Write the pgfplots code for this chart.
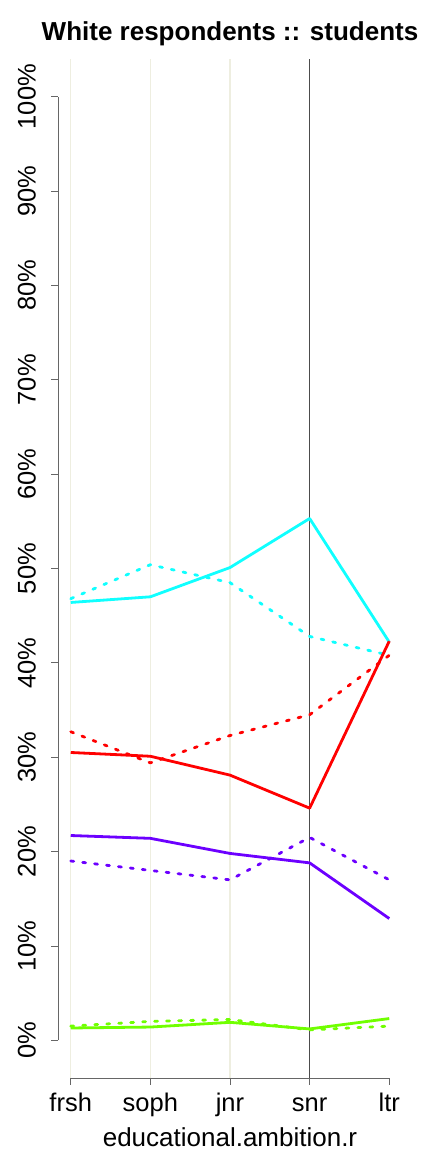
\documentclass[border=0pt]{standalone}
\usepackage{pgfplots}
\pgfplotsset{compat=1.18}
\usepackage{fontspec}
\setmainfont{Liberation Sans}
\definecolor{cRed}{HTML}{FF0000}
\definecolor{cGreen}{HTML}{70FF00}
\definecolor{cCyan}{HTML}{10FFFF}
\definecolor{cPurple}{HTML}{6C00FF}
\definecolor{gridbeige}{HTML}{EEEEE0}
\definecolor{spine}{HTML}{666666}
\begin{document}
\begin{tikzpicture}
\useasboundingbox (0,0) rectangle (432bp,1152bp);
\begin{axis}[
  at={(58bp,74bp)}, anchor=south west,
  scale only axis, width=344bp, height=1019bp,
  xmin=0.84, xmax=5.16, ymin=-4, ymax=104,
  axis line style={draw=none},
  xtick={1,2,3,4,5},
  xticklabels={frsh,soph,jnr,snr,ltr},
  ytick={0,10,20,30,40,50,60,70,80,90,100},
  yticklabels={0\%,10\%,20\%,30\%,40\%,50\%,60\%,70\%,80\%,90\%,100\%},
  tick align=outside, major tick length=7bp,
  xtick pos=bottom, ytick pos=left,
  tick style={spine, line width=0.8bp},
  xticklabel style={anchor=base, inner sep=0pt, yshift=-27bp, font=\fontsize{25.5bp}{30bp}\selectfont},
  yticklabel style={inner sep=0pt, anchor=south, rotate=90, font=\fontsize{25.5bp}{30bp}\selectfont},
  yticklabel shift=15bp,
  clip=false,
]
\draw[gridbeige, line width=1.2bp] (axis cs:1,-4) -- (axis cs:1,104);
\draw[gridbeige, line width=1.2bp] (axis cs:2,-4) -- (axis cs:2,104);
\draw[gridbeige, line width=1.2bp] (axis cs:3,-4) -- (axis cs:3,104);
\draw[black!70, line width=1bp] (axis cs:4,-4) -- (axis cs:4,104);
\draw[spine, line width=0.8bp] (axis cs:0.84,0) -- (axis cs:0.84,100);
\draw[spine, line width=0.8bp] (axis cs:1,-4) -- (axis cs:5,-4);

\pgfplotsset{solidl/.style={line width=2.8bp, line join=round, mark=none},
  dashl/.style={line width=2.8bp, line cap=round, line join=round, dash pattern=on 3bp off 9bp, mark=none}}

% green
\addplot[solidl, cGreen] coordinates {(1,1.3) (2,1.4) (3,1.9) (4,1.2) (5,2.3)};
\addplot[dashl, cGreen] coordinates {(1,1.5) (2,2.0) (3,2.2) (4,1.1) (5,1.5)};
% purple
\addplot[solidl, cPurple] coordinates {(1,21.7) (2,21.4) (3,19.8) (4,18.8) (5,12.9)};
\addplot[dashl, cPurple] coordinates {(1,19.0) (2,18.0) (3,17.0) (4,21.5) (5,17.0)};
% cyan
\addplot[solidl, cCyan] coordinates {(1,46.4) (2,47.0) (3,50.1) (4,55.3) (5,42.2)};
\addplot[dashl, cCyan] coordinates {(1,46.8) (2,50.4) (3,48.5) (4,42.8) (5,40.8)};
% red
\addplot[solidl, cRed] coordinates {(1,30.5) (2,30.1) (3,28.1) (4,24.6) (5,42.3)};
\addplot[dashl, cRed] coordinates {(1,32.7) (2,29.4) (3,32.3) (4,34.5) (5,40.8)};
\end{axis}
\node[anchor=base, inner sep=0pt, font=\bfseries\fontsize{26bp}{30bp}\selectfont] at (230bp,1111.5bp) {White respondents :: students};
\node[anchor=base, inner sep=0pt, font=\fontsize{26bp}{30bp}\selectfont] at (230bp,6bp) {educational.ambition.r};
\end{tikzpicture}
\end{document}
